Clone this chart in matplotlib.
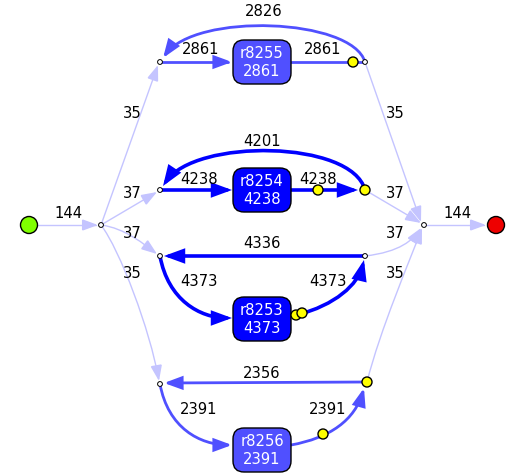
import matplotlib
matplotlib.use("Agg")
import matplotlib.pyplot as plt
from matplotlib.patches import FancyArrowPatch, FancyBboxPatch, Circle, ArrowStyle
from matplotlib.path import Path

# ---- data ----
reactions = ["r8255", "r8254", "r8253", "r8256"]
fluxes = [2861, 4238, 4373, 2391]
returns = [2826, 4201, 4336, 2356]
split_flows = [35, 37, 37, 35]
total_flow = 144

# ---- style ----
box_colors = ["#5050ff", "#0000ff", "#0000ff", "#5050ff"]
widths = [2.0, 2.6, 2.6, 2.0]
light = "#c4c4ff"
FONT = dict(family="DejaVu Sans", fontstretch="condensed", fontsize=11.8)

fig = plt.figure(figsize=(5.09, 4.76), dpi=100)
ax = fig.add_axes([0, 0, 1, 1])
ax.set_xlim(0, 509)
ax.set_ylim(476, 0)
ax.axis("off")

def arrow_path(verts, codes, color, lw, ms=17, arrow=True, z=2):
    if arrow:
        st = ArrowStyle("-|>", head_length=0.6, head_width=0.22)
    else:
        st = "-"
    p = FancyArrowPatch(path=Path(verts, codes), arrowstyle=st,
                        mutation_scale=ms, color=color, lw=lw, zorder=z,
                        shrinkA=0, shrinkB=0, joinstyle="miter")
    ax.add_patch(p)

L2 = [Path.MOVETO, Path.LINETO]
C4 = [Path.MOVETO, Path.CURVE4, Path.CURVE4, Path.CURVE4]

def small_node(x, y):
    ax.add_patch(Circle((x, y), 2.4, fc="white", ec="black", lw=0.7, zorder=6))

def yellow(x, y):
    ax.add_patch(Circle((x, y), 5, fc="#ffff00", ec="black", lw=1.0, zorder=6))

def label(x, y, s, color="black", **kw):
    ax.text(x, y, str(s), ha="center", va="center", color=color, zorder=8, **FONT, **kw)

# node positions
start = (29, 225); split = (101, 225); join = (424, 225); end = (496, 225)
lefts = [(160, 62), (160, 190), (160, 256), (160, 384)]
rights = [(365, 62), (365, 190), (365, 256), (367, 382)]
boxes = [(262, 62), (262, 190), (262, 319), (262, 450)]
bw, bh = 58, 44

# start / end
ax.add_patch(Circle(start, 8.5, fc="#80ff00", ec="black", lw=1, zorder=6))
ax.add_patch(Circle(end, 8.5, fc="#ee0000", ec="black", lw=1, zorder=6))
arrow_path([(38, 225), (98, 225)], L2, light, 1.0, ms=16)
arrow_path([(427, 225), (486, 225)], L2, light, 1.0, ms=16)
label(69, 214, total_flow)
label(458, 214, total_flow)

# split edges
arrow_path([split, (158, 65)], L2, light, 1.0, ms=16)
arrow_path([split, (157, 192)], L2, light, 1.0, ms=16)
arrow_path([split, (125, 228), (145, 245), (157, 254)], C4, light, 1.0, ms=16)
arrow_path([split, (120, 250), (150, 330), (159, 381)], C4, light, 1.0, ms=16)
# join edges
arrow_path([rights[0], (421, 222)], L2, light, 1.0, ms=16)
arrow_path([rights[1], (421, 223)], L2, light, 1.0, ms=16)
arrow_path([rights[2], (400, 252), (413, 240), (421, 228)], C4, light, 1.0, ms=16)
arrow_path([rights[3], (380, 330), (410, 260), (422, 228)], C4, light, 1.0, ms=16)
for (lx, ly), (rx, ry), v in zip([(132, 113), (132, 193), (132, 234), (132, 273)],
                                 [(395, 113), (395, 193), (395, 234), (395, 273)],
                                 split_flows):
    label(lx, ly, v)
    label(rx, ry, v)

# reaction boxes
for (cx, cy), name, f, c in zip(boxes, reactions, fluxes, box_colors):
    ax.add_patch(FancyBboxPatch((cx - bw / 2 + 8, cy - bh / 2 + 8), bw - 16, bh - 16,
                                boxstyle="round,pad=8,rounding_size=11",
                                fc=c, ec="black", lw=1.0, zorder=5))
    ax.text(cx, cy + 0.5, f"{name}\n{f}", ha="center", va="center", color="white",
            zorder=7, linespacing=1.25, **FONT)

# row 0 (r8255)
c, w = box_colors[0], widths[0]
arrow_path([lefts[0], (232, 62)], L2, c, w)
arrow_path([(291, 62), (365, 62)], L2, c, w, arrow=False)
yellow(353, 62)
arrow_path([rights[0], (352, 18), (195, 12), (163, 58)], C4, c, w)
label(201, 50, fluxes[0]); label(323, 50, fluxes[0]); label(264, 12, returns[0])

# row 1 (r8254)
c, w = box_colors[1], widths[1]
arrow_path([lefts[1], (232, 190)], L2, c, w)
arrow_path([(291, 190), (358, 190)], L2, c, w)
yellow(318, 190)
yellow(365, 190)
arrow_path([rights[1], (352, 140), (195, 138), (163, 186)], C4, c, w)
label(199, 180, fluxes[1]); label(318, 179, fluxes[1]); label(262, 141, returns[1])

# row 2 (r8253)
c, w = box_colors[2], widths[2]
arrow_path([rights[2], (164, 256)], L2, c, w)
arrow_path([lefts[2], (168, 300), (200, 318), (232, 318)], C4, c, w)
arrow_path([(297, 315), (335, 305), (358, 285), (364, 260)], C4, c, w)
yellow(296, 315); yellow(302, 313)
label(199, 281, fluxes[2]); label(328, 281, fluxes[2]); label(262, 244, returns[2])

# row 3 (r8256)
c, w = box_colors[3], widths[3]
arrow_path([rights[3], (164, 383)], L2, c, w)
arrow_path([lefts[3], (168, 428), (200, 445), (232, 445)], C4, c, w)
arrow_path([(291, 445), (330, 438), (355, 420), (364, 388)], C4, c, w)
yellow(323, 434); yellow(367, 382)
label(199, 409, fluxes[3]); label(328, 409, fluxes[3]); label(262, 374, returns[3])

for p in lefts + [rights[0], rights[2], split, join]:
    small_node(*p)

fig.savefig("out.png", dpi=100)
